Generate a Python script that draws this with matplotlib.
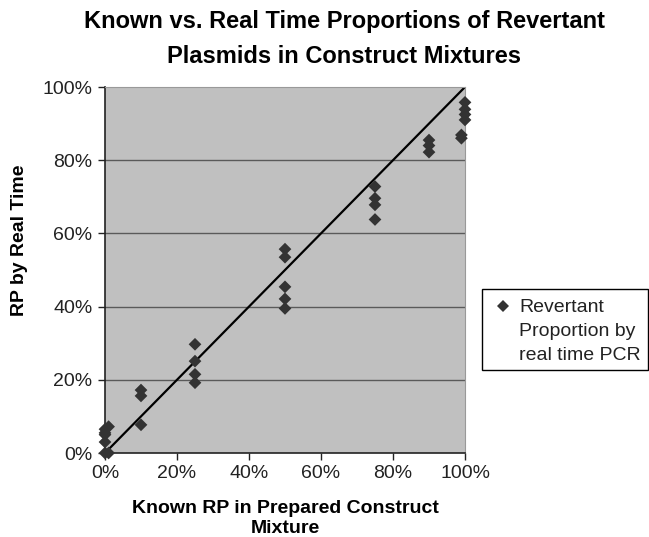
import matplotlib
matplotlib.use("Agg")
import matplotlib.pyplot as plt
from matplotlib.lines import Line2D
from matplotlib.patches import Rectangle
from matplotlib.ticker import FuncFormatter

plt.rcParams["font.family"] = ["Liberation Sans", "DejaVu Sans"]

# known proportion vs real-time PCR proportion (fractions)
known_rp = [0.0, 0.0, 0.0, 0.0, 0.0, 0.01, 0.01,
            0.10, 0.10, 0.10,
            0.25, 0.25, 0.25, 0.25,
            0.50, 0.50, 0.50, 0.50, 0.50,
            0.75, 0.75, 0.75, 0.75,
            0.90, 0.90, 0.90,
            1.00, 1.00, 1.00, 1.00, 0.99, 0.99]
real_rp = [0.065, 0.055, 0.05, 0.03, 0.0, 0.072, 0.0,
           0.172, 0.156, 0.077,
           0.297, 0.251, 0.215, 0.192,
           0.557, 0.535, 0.454, 0.421, 0.395,
           0.728, 0.696, 0.678, 0.638,
           0.855, 0.840, 0.822,
           0.958, 0.939, 0.925, 0.910, 0.869, 0.860]
ideal_x = [0.0, 1.0]
ideal_y = [0.0, 1.0]
ticks = [0.0, 0.2, 0.4, 0.6, 0.8, 1.0]
title_lines = ["Known vs. Real Time Proportions of Revertant",
               "Plasmids in Construct Mixtures"]
legend_lines = ["Revertant", "Proportion by", "real time PCR"]

W, H = 649, 537
fig = plt.figure(figsize=(W / 100, H / 100), dpi=100)
ax = fig.add_axes([105 / W, 84 / H, 360 / W, 366 / H])
ax.set_facecolor("#c0c0c0")

for t in ticks[1:-1]:
    ax.axhline(t, color="#5a5a5a", linewidth=1.0, zorder=1)

ax.plot(ideal_x, ideal_y, color="black", linewidth=1.6, zorder=2)
ax.scatter(known_rp, real_rp, marker="D", s=42, color="#333333",
           edgecolors="none", zorder=3, clip_on=False)

ax.set_xlim(0, 1)
ax.set_ylim(0, 1)
ax.set_xticks(ticks)
ax.set_yticks(ticks)
pct = FuncFormatter(lambda v, _: f"{v * 100:.0f}%")
ax.xaxis.set_major_formatter(pct)
ax.yaxis.set_major_formatter(pct)
ax.tick_params(labelsize=14, colors="#222222", length=5, width=1, direction="out", pad=4)

for side in ["top", "right"]:
    ax.spines[side].set_color("#999999")
for side in ["left", "bottom"]:
    ax.spines[side].set_color("#222222")
    ax.spines[side].set_linewidth(1.2)

ax.set_xlabel("Known RP in Prepared Construct\nMixture", fontsize=14, fontweight="bold",
              va="top", linespacing=1.22)
ax.xaxis.set_label_coords(0.5, -0.128)
ax.set_ylabel("RP by Real Time", fontsize=14, fontweight="bold")
ax.yaxis.set_label_coords(-0.215, 0.58)

# title, two centred lines
for line, base in zip(title_lines, [28, 63]):
    fig.text(344 / W, 1 - base / H, line, fontsize=17, fontweight="bold",
             ha="center", va="baseline")

# legend box
fig.add_artist(Rectangle((482 / W, 1 - 370 / H), 166 / W, 81 / H, transform=fig.transFigure,
                         facecolor="white", edgecolor="black", linewidth=1.0))
fig.add_artist(Line2D([503 / W], [1 - 306 / H], transform=fig.transFigure, marker="D",
                      markersize=6, color="#333333", markeredgewidth=0))
for line, base in zip(legend_lines, [312, 336, 360]):
    fig.text(519 / W, 1 - base / H, line, fontsize=14, ha="left", va="baseline", color="#222222")

fig.savefig("out.png", dpi=100)
